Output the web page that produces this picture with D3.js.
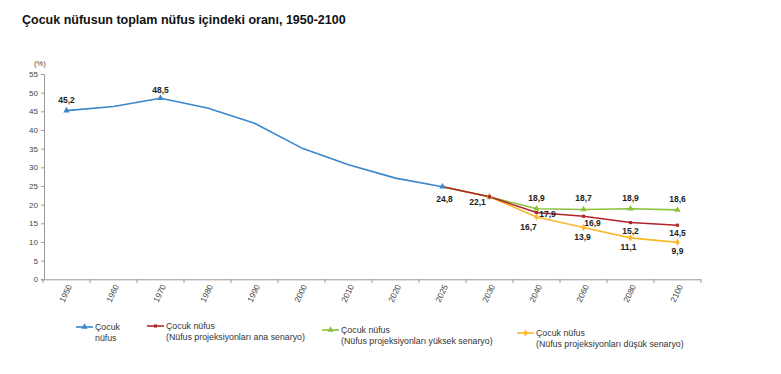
<!DOCTYPE html>
<html><head><meta charset="utf-8">
<script src="https://cdn.jsdelivr.net/npm/d3@7"></script>
<style>body{margin:0;background:#fff;} svg{display:block;font-family:"Liberation Sans",Arial,sans-serif;}</style>
</head><body><svg id="c" width="781" height="374"></svg>
<script>
const categories = ["1950","1960","1970","1980","1990","2000","2010","2020","2025","2030","2040","2060","2080","2100"];
const yTicks = [0,5,10,15,20,25,30,35,40,45,50,55];
const histYears = ["1950","1960","1970","1980","1990","2000","2010","2020","2025"];
const histValues = [45.2,46.3,48.5,45.9,41.8,35.2,30.7,27.1,24.8];
const histLabeled = ["1950","1970","2025"];
const projYears = ["2025","2030","2040","2060","2080","2100"];
const mainValues = [24.8,22.1,17.9,16.9,15.2,14.5];
const highValues = [24.8,22.1,18.9,18.7,18.9,18.6];
const lowValues  = [24.8,22.1,16.7,13.9,11.1,9.9];
const seriesNames = [["Çocuk","nüfus"],["Çocuk nüfus","(Nüfus projeksiyonları ana senaryo)"],["Çocuk nüfus","(Nüfus projeksiyonları yüksek senaryo)"],["Çocuk nüfus","(Nüfus projeksiyonları düşük senaryo)"]];
const colors = ["#3B86CC","#B3252B","#8CC23F","#FDB72A"];

const svg = d3.select("#c");
svg.append("text").attr("x",22).attr("y",24).attr("font-size",12.5).attr("font-weight","bold").attr("fill","#111")
  .text("Çocuk nüfusun toplam nüfus içindeki oranı, 1950-2100");

const x = d3.scaleBand().domain(categories).range([43,701]);
const y = d3.scaleLinear().domain([0,55]).range([279.3,74]);
const cx = d => x(d)+x.bandwidth()/2;

// y axis
const ya = svg.append("g").attr("transform","translate(44,0)")
  .call(d3.axisLeft(y).tickValues(yTicks).tickSize(3).tickPadding(3));
ya.select(".domain").attr("stroke","#999");
ya.selectAll(".tick line").attr("stroke","#999");
ya.selectAll("text").attr("font-size",8).attr("fill","#444").attr("font-family","Liberation Sans, Arial, sans-serif");
svg.append("text").attr("x",34).attr("y",66).attr("font-size",7.5).attr("fill","#444").text("(%)");

// x axis
const xa = svg.append("g").attr("transform","translate(0,279.3)")
  .call(d3.axisBottom(x).tickSize(0).tickFormat(""));
xa.select(".domain").attr("stroke","#999");
const bounds = categories.map(c=>x(c)).concat([x.range()[1]]);
svg.append("g").selectAll("line").data(bounds).join("line")
  .attr("x1",d=>d).attr("x2",d=>d).attr("y1",279.3).attr("y2",283).attr("stroke","#999");
svg.append("g").selectAll("text").data(categories).join("text")
  .attr("transform",d=>`translate(${cx(d)+3},285) rotate(-65)`)
  .attr("text-anchor","end").attr("dy","0.35em").attr("font-size",8.3).attr("fill","#444").text(d=>d);

const line = d3.line();
function drawLine(years, vals, color){
  svg.append("path").attr("d", line(years.map((c,i)=>[cx(c), y(vals[i])])))
    .attr("fill","none").attr("stroke",color).attr("stroke-width",1.6).attr("stroke-linejoin","round");
}
const tri = d3.symbol().type(d3.symbolTriangle).size(18);
const dia = d3.symbol().type(d3.symbolDiamond).size(16);
const sq = d3.symbol().type(d3.symbolSquare).size(10);
function marks(years, vals, color, sym, skipFirst){
  svg.append("g").selectAll("path").data(years.map((c,i)=>[c,vals[i]]).filter((d,i)=>!(skipFirst&&i===0))).join("path")
    .attr("transform",d=>`translate(${cx(d[0])},${y(d[1])})`).attr("d",sym).attr("fill",color);
}
drawLine(projYears, lowValues, colors[3]);
drawLine(projYears, highValues, colors[2]);
drawLine(projYears, mainValues, colors[1]);
drawLine(histYears, histValues, colors[0]);
marks(projYears, lowValues, colors[3], dia, true);
marks(projYears, highValues, colors[2], tri, true);
marks(projYears, mainValues, colors[1], sq, true);
marks(histLabeled, histLabeled.map(c=>histValues[histYears.indexOf(c)]), colors[0], tri, false);

// data labels
const fmt = v => String(v.toFixed(1)).replace(".",",");
function label(cat, v, dx, dy){
  svg.append("text").attr("x",cx(cat)+dx).attr("y",y(v)+dy).attr("text-anchor","middle").attr("dy","0.35em")
    .attr("font-size",8.5).attr("font-weight","bold").attr("fill","#222").text(fmt(v));
}
label("1950",histValues[0],0,-11);
label("1970",histValues[2],0,-8);
label("2025",histValues[8],2,12);
label("2030",mainValues[1],-12,5);
highValues.slice(2).forEach((v,i)=>label(projYears[i+2],v,0,-11));
label("2040",mainValues[2],11,2);
label("2060",mainValues[3],9,7);
label("2080",mainValues[4],0,8);
label("2100",mainValues[5],0,8);
label("2040",lowValues[2],-8,10);
label("2060",lowValues[3],-1,10);
label("2080",lowValues[4],-2,9);
label("2100",lowValues[5],0,9);

// legend
const legPos = [[76,327],[147,326],[322,330],[517,333]];
const legSym = [tri,sq,dia,dia];
legPos.forEach((p,i)=>{
  const g = svg.append("g").attr("transform",`translate(${p[0]},${p[1]})`);
  g.append("line").attr("x1",0).attr("x2",17).attr("stroke",colors[i]).attr("stroke-width",1.6);
  g.append("path").attr("transform","translate(8.5,0)").attr("d",i===2?tri:legSym[i]).attr("fill",colors[i]);
  g.append("text").attr("x",19).attr("y",0).attr("dy","0.35em").attr("font-size",8.8).attr("fill","#333").text(seriesNames[i][0]);
  g.append("text").attr("x",19).attr("y",11).attr("dy","0.35em").attr("font-size",8.8).attr("fill","#333").text(seriesNames[i][1]);
});
</script></body></html>
